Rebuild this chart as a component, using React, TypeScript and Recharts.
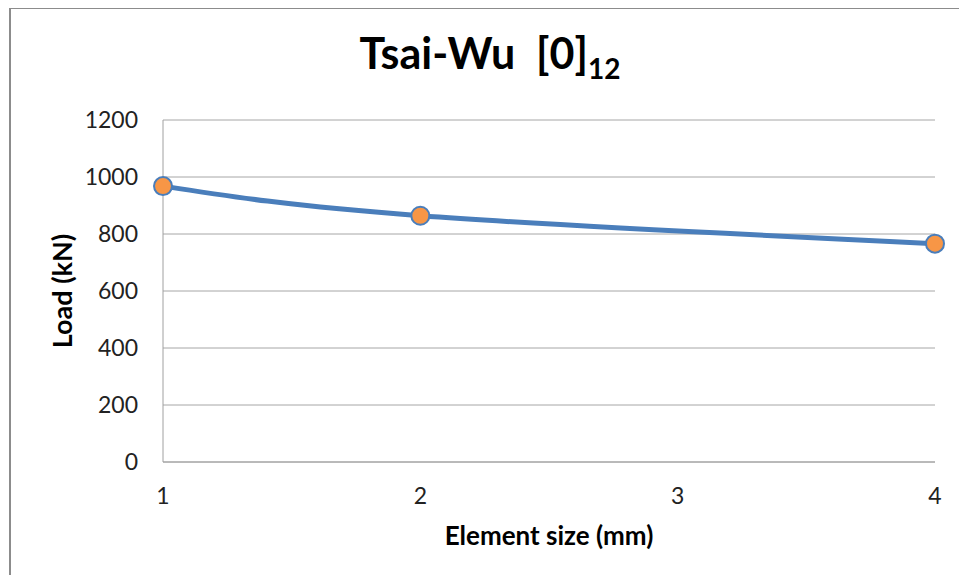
import { LineChart, Line, XAxis, YAxis, CartesianGrid } from 'recharts'

const elementSizes = [1, 2, 4]
const loads = [968, 864, 766]
const xTicks = [1, 2, 3, 4]
const yTicks = [0, 200, 400, 600, 800, 1000, 1200]

const data = elementSizes.map((size, i) => ({ size, load: loads[i] }))

const FONT = 'Lato, "Noto Sans", sans-serif'

export default function App() {
  return (
    <div style={{ position: 'relative', width: 967, height: 583, margin: -8, background: '#fff', fontFamily: FONT, overflow: 'hidden' }}>
      <div
        style={{
          position: 'absolute',
          left: 9,
          top: 7,
          width: 1000,
          height: 600,
          borderTop: '2px solid #8c8c8c',
          borderLeft: '2px solid #8c8c8c',
        }}
      />
      <div
        style={{
          position: 'absolute',
          left: 0,
          top: 27,
          width: 980,
          textAlign: 'center',
          fontSize: 43,
          fontWeight: 700,
          color: '#000',
          whiteSpace: 'pre',
        }}
      >
        {'Tsai-Wu  [0]'}
        <sub style={{ fontSize: 28, verticalAlign: -10, lineHeight: 0 }}>12</sub>
      </div>
      <div style={{ position: 'absolute', left: 0, top: 0 }}>
        <LineChart width={967} height={583} data={data} margin={{ top: 120, right: 32, bottom: 34, left: 53 }}>
          <CartesianGrid vertical={false} stroke="#a6a6a6" strokeWidth={1} />
          <XAxis
            dataKey="size"
            type="number"
            domain={[1, 4]}
            ticks={xTicks}
            height={87}
            tickSize={0}
            tickMargin={26}
            axisLine={{ stroke: '#a0a0a0' }}
            tick={{ fill: '#222', fontSize: 23, fontFamily: FONT }}
            label={{
              value: 'Element size (mm)',
              position: 'insideBottom',
              offset: 4,
              fill: '#000',
              fontSize: 26,
              fontWeight: 700,
              fontFamily: FONT,
            }}
          />
          <YAxis
            type="number"
            domain={[0, 1200]}
            ticks={yTicks}
            width={110}
            tickSize={0}
            tickMargin={25}
            axisLine={{ stroke: '#a0a0a0' }}
            tick={{ fill: '#222', fontSize: 23, fontFamily: FONT }}
            label={{
              value: 'Load (kN)',
              angle: -90,
              position: 'insideLeft',
              offset: 9,
              fill: '#000',
              fontSize: 27,
              fontWeight: 700,
              fontFamily: FONT,
              style: { textAnchor: 'middle' },
            }}
          />
          <Line
            type="natural"
            dataKey="load"
            stroke="#4a7ebb"
            strokeWidth={5}
            dot={{ r: 9, fill: '#f79646', stroke: '#4a7ebb', strokeWidth: 2 }}
            activeDot={false}
            isAnimationActive={false}
          />
        </LineChart>
      </div>
    </div>
  )
}
